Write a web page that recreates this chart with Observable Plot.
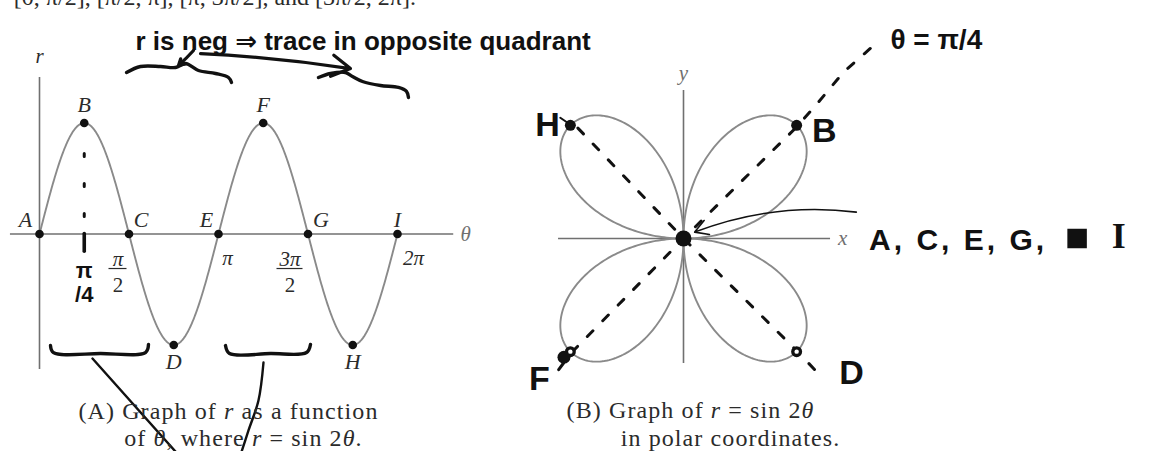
<!DOCTYPE html>
<html>
<head>
<meta charset="utf-8">
<script src="https://cdn.jsdelivr.net/npm/d3@7"></script>
<script src="https://cdn.jsdelivr.net/npm/@observablehq/plot@0.6"></script>
<style>
  body { margin: 0; background: #fff; }
  #fig { position: relative; width: 1153px; height: 451px; overflow: hidden; background: #fff; }
  #fig svg { position: absolute; top: 0; overflow: visible; background: transparent; }
</style>
</head>
<body>
<div id="fig"></div>
<script>
// ---------- data ----------
const PI = Math.PI;
// labelled points of r = sin 2θ over one turn
const pointNames = ["A", "B", "C", "D", "E", "F", "G", "H", "I"];
const pointTheta = [0, PI / 4, PI / 2, 3 * PI / 4, PI, 5 * PI / 4, 3 * PI / 2, 7 * PI / 4, 2 * PI];
const pointR = [0, 1, 0, -1, 0, 1, 0, -1, 0];

// θ-axis tick labels (numerator over denominator)
const tickTheta = [PI / 2, PI, 3 * PI / 2, 2 * PI];
const tickNumer = ["π", "π", "3π", "2π"];
const tickDenom = ["2", "", "2", ""];

// the function both panels plot
const rOf = theta => Math.sin(2 * theta);
const sampleTheta = d3.range(0, 2 * PI + 1e-9, PI / 360);

// captions (*…* is set in italics)
const captionA = ["(A) Graph of *r* as a function", "of *θ*, where *r* = sin 2*θ*."];
const captionB = ["(B) Graph of *r* = sin 2*θ*", "in polar coordinates."];
const runningText = ["[0, π/2], [π/2, π], [π, 3π/2], and [3π/2, 2π]."];

// pen notes
const noteTop = ["r is neg ⇒ trace in opposite quadrant"];
const notePiOver4 = ["π", "/4"];
const noteAngle = ["θ = π/4"];
const noteOrigin = ["A, C, E, G,"];
const noteOriginLast = ["I"];
const notePetals = ["H", "B", "F", "D"];

// pen strokes, in each panel's own units (θ, r) or (x, y)
const squiggleLeft = [[1.527, 1.455], [1.773, 1.509], [2.124, 1.509], [2.387, 1.500], [2.562, 1.536], [2.790, 1.473], [3.089, 1.446], [3.317, 1.410], [3.370, 1.365]];
const squiggleRight = [[4.896, 1.410], [5.107, 1.446], [5.370, 1.455], [5.493, 1.419], [5.669, 1.374], [5.985, 1.338], [6.301, 1.320], [6.441, 1.284], [6.476, 1.230]];
const braceLeft = [[0.193, -1.005], [0.246, -1.068], [1.071, -1.077], [1.860, -1.068], [1.913, -0.995]];
const braceRight = [[3.264, -1.005], [3.335, -1.077], [4.054, -1.077], [4.686, -1.068], [4.756, -0.995]];
const leaderLeft = [[0.930, -1.122], [2.439, -1.990]];
const leaderRight = [[3.931, -1.158], [3.843, -1.50], [3.668, -1.77], [3.528, -1.99]];
const arrowsLeft = [
  {x1: 2.826, y1: 1.625, x2: 5.458, y2: 1.490},
  {x1: 2.703, y1: 1.653, x2: 2.439, y2: 1.518}
];
const diagonalPi4 = [[-0.78, -0.82], [-0.706, -0.719], [0, 0], [0.70, 0.69], [0.825, 0.83], [1.0, 1.04], [1.17, 1.19]];
const diagonal3Pi4 = [[-0.66, 0.69], [0, 0], [0.6875, -0.681], [0.825, -0.825]];
const strokeH = [[-0.77, 0.755], [-0.69, 0.70]];
const arrowOrigin = [{x1: 1.08, y1: 0.165, x2: 0.07, y2: 0.04}];

// ---------- tables ----------
const points = pointNames.map((name, i) => ({name, theta: pointTheta[i], r: pointR[i]}));
const curve = sampleTheta.map(theta => ({theta, r: rOf(theta)}));
const ticks = tickTheta.map((theta, i) => ({theta, numer: tickNumer[i], denom: tickDenom[i]}));

// ---------- styles ----------
const serif = "'Liberation Serif', 'Times New Roman', serif";
const pen = "'Liberation Sans', 'DejaVu Sans', sans-serif";
const ink = "#111";
const print = "#2b2b2b";
const gray = "#8a8a8a";
const axisGray = "#707070";
const penLine = {x: d => d[0], y: d => d[1], stroke: ink, strokeWidth: 3.4, strokeLinecap: "round", strokeLinejoin: "round", curve: "catmull-rom"};
const captionStyle = {text: d => d, fontFamily: serif, fontSize: 24, fill: print};

// widen the tracking of the given strings
function track(svg, strings, px) {
  d3.select(svg).selectAll("text").filter(function () { return strings.includes(this.textContent); })
    .attr("letter-spacing", px);
}

// turn *…* runs into italic tspans
function italicize(svg) {
  d3.select(svg).selectAll("text").each(function () {
    const el = d3.select(this);
    const s = el.text();
    if (!s.includes("*")) return;
    el.text(null);
    s.split(/(\*[^*]+\*)/).forEach(part => {
      if (!part) return;
      const it = part.startsWith("*");
      el.append("tspan").attr("font-style", it ? "italic" : null).text(it ? part.slice(1, -1) : part);
    });
  });
}

// ---------- (A) r against θ ----------
const labelDx = {A: -14, C: 12, E: -12, G: 13, I: 0};
const tickDx = [-11, 9, -18, 16];
const tickHalf = [9, 0, 13, 0];
const zeroPoints = points.filter(d => d.r === 0);
const left = Plot.plot({
  width: 480, height: 451, margin: 0,
  x: {domain: [-0.6845, 7.740], axis: null},
  y: {domain: [-1.9595, 2.1036], axis: null},
  style: {background: "transparent", overflow: "visible"},
  marks: [
    Plot.text(runningText, {x: -0.45, y: 2.06, text: d => d, lineAnchor: "bottom", textAnchor: "start", fontFamily: serif, fontSize: 24, fill: print}),
    // axes
    Plot.ruleY([0], {x1: -0.51, x2: 7.27, stroke: axisGray, strokeWidth: 1.6}),
    Plot.ruleX([0], {y1: -1.22, y2: 1.41, stroke: axisGray, strokeWidth: 1.6}),
    Plot.text(["r"], {x: 0, y: 1.60, text: d => d, fontFamily: serif, fontStyle: "italic", fontSize: 21, fill: print}),
    Plot.text(["θ"], {x: 7.48, y: 0, text: d => d, fontFamily: serif, fontStyle: "italic", fontSize: 21, fill: axisGray}),
    // the curve and its labelled points
    Plot.line(curve, {x: "theta", y: "r", stroke: gray, strokeWidth: 1.9}),
    Plot.dot(points, {x: "theta", y: "r", r: 4.3, fill: ink}),
    ...zeroPoints.map(p => Plot.text([p], {x: "theta", y: "r", text: "name", dx: labelDx[p.name], dy: -14, fontFamily: serif, fontStyle: "italic", fontSize: 22, fill: print})),
    Plot.text(points.filter(d => d.r === 1), {x: "theta", y: "r", text: "name", dy: -18, fontFamily: serif, fontStyle: "italic", fontSize: 22, fill: print}),
    Plot.text(points.filter(d => d.r === -1), {x: "theta", y: "r", text: "name", dy: 17, fontFamily: serif, fontStyle: "italic", fontSize: 22, fill: print}),
    // tick labels
    ...ticks.map((t, i) => t.denom
      ? [
          Plot.text([t], {x: "theta", y: 0, text: "numer", dx: tickDx[i], dy: 25, fontFamily: serif, fontStyle: "italic", fontSize: 21, fill: print}),
          Plot.text([t], {x: "theta", y: 0, text: "denom", dx: tickDx[i], dy: 51, fontFamily: serif, fontSize: 21, fill: print}),
          Plot.ruleY([t], {y: -0.311, x1: d => d.theta + (tickDx[i] - tickHalf[i]) / 56.98, x2: d => d.theta + (tickDx[i] + tickHalf[i]) / 56.98, stroke: print, strokeWidth: 1.2})
        ]
      : Plot.text([t], {x: "theta", y: 0, text: "numer", dx: tickDx[i], dy: 24, fontFamily: serif, fontStyle: "italic", fontSize: 21, fill: print})
    ).flat(),
    // pen notes
    Plot.ruleX([PI / 4], {y1: 0.72, y2: 0.05, stroke: ink, strokeWidth: 3, strokeDasharray: "3,27", strokeLinecap: "round"}),
    Plot.ruleX([PI / 4], {y1: 0.0, y2: -0.16, stroke: ink, strokeWidth: 3.6, strokeLinecap: "round"}),
    Plot.text(notePiOver4, {x: PI / 4, y: [-0.33, -0.55], text: d => d, fontFamily: pen, fontWeight: "bold", fontSize: 22, fill: ink}),
    Plot.text(noteTop, {x: 1.685, y: 1.735, text: d => d, textAnchor: "start", fontFamily: pen, fontWeight: "bold", fontSize: 26, fill: ink}),
    Plot.line(squiggleLeft, penLine),
    Plot.line(squiggleRight, penLine),
    Plot.arrow(arrowsLeft, {x1: "x1", y1: "y1", x2: "x2", y2: "y2", bend: 3, headLength: 10, stroke: ink, strokeWidth: 3.2}),
    Plot.line(braceLeft, penLine),
    Plot.line(braceRight, penLine),
    Plot.line(leaderLeft, {...penLine, strokeWidth: 2.4}),
    Plot.line(leaderRight, {...penLine, strokeWidth: 2.4}),
    // caption
    Plot.text(captionA, {x: [3.317, 3.580], y: [-1.595, -1.84], ...captionStyle})
  ]
});
track(left, captionA, 1.1);
italicize(left);
left.style.left = "0px";
left.style.zIndex = 2;

// ---------- (B) polar graph ----------
const petalTips = points.filter(d => d.r !== 0);
const polarX = d => d.r * Math.cos(d.theta);
const polarY = d => d.r * Math.sin(d.theta);
const right = Plot.plot({
  width: 673, height: 451, margin: 0,
  x: {domain: [-1.26875, 2.9375], axis: null},
  y: {domain: [-1.33125, 1.4875], axis: null},
  style: {background: "transparent", overflow: "visible"},
  marks: [
    Plot.ruleY([0], {x1: -0.781, x2: 0.919, stroke: axisGray, strokeWidth: 1.6}),
    Plot.ruleX([0], {y1: -0.781, y2: 0.925, stroke: axisGray, strokeWidth: 1.6}),
    Plot.text(["y"], {x: 0, y: 1.03, text: d => d, fontFamily: serif, fontStyle: "italic", fontSize: 21, fill: axisGray}),
    Plot.text(["x"], {x: 0.995, y: 0, text: d => d, fontFamily: serif, fontStyle: "italic", fontSize: 21, fill: axisGray}),
    Plot.line(curve, {x: polarX, y: polarY, stroke: gray, strokeWidth: 1.9}),
    // pen diagonals along θ = π/4 and θ = 3π/4
    Plot.line(diagonalPi4, {...penLine, strokeWidth: 3, strokeDasharray: "8,14", curve: "linear"}),
    Plot.line(diagonal3Pi4, {...penLine, strokeWidth: 3, strokeDasharray: "8,14", curve: "linear"}),
    Plot.line(strokeH, {...penLine, strokeWidth: 2, curve: "linear"}),
    Plot.dot(petalTips, {x: polarX, y: polarY, r: 5.5, fill: ink}),
    Plot.dot(petalTips.filter(d => d.name === "F"), {x: d => polarX(d) - 0.04, y: d => polarY(d) - 0.035, r: 6.5, fill: ink}),
    Plot.dot(petalTips.filter(d => d.name === "D" || d.name === "F"), {x: polarX, y: polarY, r: 2.2, fill: "#fff"}),
    Plot.dot(zeroPoints.slice(0, 1), {x: polarX, y: polarY, r: 8, fill: ink}),
    Plot.arrow(arrowOrigin, {x1: "x1", y1: "y1", x2: "x2", y2: "y2", bend: -14, headLength: 14, stroke: ink, strokeWidth: 1.6}),
    Plot.text(notePetals, {x: [-0.85, 0.88, -0.9, 1.05], y: [0.71, 0.67, -0.88, -0.84], text: d => d, fontFamily: pen, fontWeight: "bold", fontSize: 34, fill: ink}),
    Plot.text(noteAngle, {x: 1.58, y: 1.24, text: d => d, fontFamily: pen, fontWeight: "bold", fontSize: 28, fill: ink}),
    Plot.text(noteOrigin, {x: 1.16, y: -0.01, text: d => d, textAnchor: "start", fontFamily: pen, fontWeight: "bold", fontSize: 30, fill: ink}),
    Plot.dot([0], {x: 2.46, y: 0.0, symbol: "square", r: 11, fill: ink}),
    Plot.text(noteOriginLast, {x: 2.72, y: 0.01, text: d => d, fontFamily: serif, fontWeight: "bold", fontSize: 36, fill: ink}),
    Plot.text(captionB, {x: [0.044, 0.294], y: [-1.075, -1.25], ...captionStyle})
  ]
});
track(right, captionB, 1.1);
track(right, noteOrigin, 3);
italicize(right);
right.style.left = "480px";
right.style.zIndex = 1;

const fig = document.getElementById("fig");
fig.append(right, left);
</script>
</body>
</html>
